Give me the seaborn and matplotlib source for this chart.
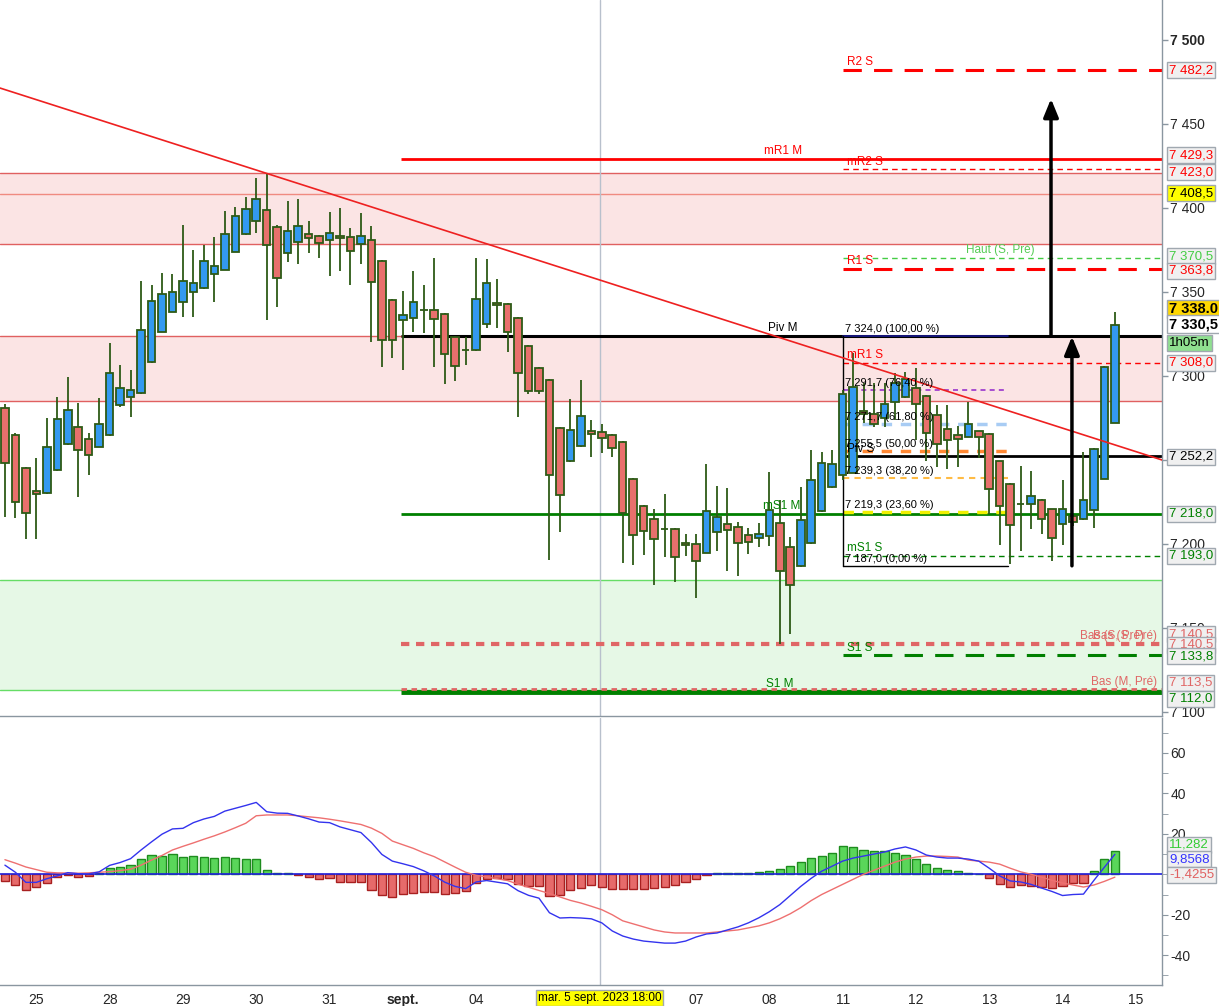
import numpy as np
import matplotlib
matplotlib.use("Agg")
import matplotlib.pyplot as plt
from matplotlib.ticker import MultipleLocator
import seaborn as sns

sns.set_style("white")
plt.rcParams['font.family'] = ['Liberation Sans', 'DejaVu Sans']

# =========================================================================== #
# Data: 2h candles, bar 0 = first bar of Fri 25 Aug

first_bar = -3
opens = [7281.0, 7264.9, 7245.3, 7231.6, 7230.4, 7244.1, 7259.5, 7269.7, 7262.5, 7257.8,
         7264.9, 7282.7, 7287.5, 7289.9, 7308.3, 7326.2, 7338.1, 7344.1, 7350.0, 7352.4,
         7360.7, 7363.1, 7373.8, 7384.5, 7392.3, 7398.8, 7388.7, 7373.2, 7379.8, 7384.5,
         7383.3, 7381.0, 7383.3, 7382.7, 7378.6, 7381.0, 7368.5, 7345.2, 7333.3, 7334.5,
         7339.3, 7339.3, 7336.9, 7323.2, 7315.5, 7315.5, 7331.0, 7343.5, 7342.9, 7334.5,
         7317.9, 7304.8, 7297.6, 7269.1, 7249.4, 7258.3, 7267.3, 7266.7, 7264.9, 7260.7,
         7238.7, 7222.6, 7214.9, 7209.0, 7209.0, 7200.6, 7200.0, 7194.7, 7207.1, 7211.9,
         7210.1, 7205.4, 7203.6, 7204.8, 7212.5, 7198.2, 7186.9, 7200.6, 7219.6, 7233.9,
         7241.1, 7242.3, 7279.2, 7277.4, 7275.0, 7284.5, 7287.5, 7292.9, 7288.1, 7276.8,
         7268.5, 7264.9, 7263.7, 7267.3, 7265.5, 7249.4, 7235.7, 7223.8, 7223.8, 7226.2,
         7220.8, 7211.9, 7216.7, 7214.9, 7220.2, 7238.7, 7272.0]
highs = [7283.3, 7266.1, 7246.0, 7251.2, 7275.0, 7287.5, 7299.4, 7283.9, 7266.1, 7286.9,
         7319.7, 7306.6, 7303.6, 7356.5, 7354.2, 7361.3, 7360.7, 7389.9, 7375.0, 7378.0,
         7382.7, 7398.2, 7400.6, 7406.5, 7417.9, 7420.8, 7390.0, 7404.2, 7405.4, 7392.3,
         7384.0, 7397.6, 7400.0, 7388.1, 7397.0, 7389.3, 7369.0, 7346.0, 7350.6, 7362.5,
         7354.2, 7370.2, 7337.5, 7323.5, 7323.2, 7370.2, 7369.6, 7357.7, 7343.5, 7335.0,
         7318.5, 7305.5, 7298.0, 7269.5, 7286.3, 7297.6, 7273.8, 7271.4, 7265.5, 7261.0,
         7239.0, 7223.0, 7220.8, 7229.8, 7209.5, 7206.0, 7206.0, 7247.6, 7234.5, 7233.3,
         7213.1, 7209.5, 7212.5, 7242.9, 7226.2, 7204.2, 7233.9, 7256.0, 7254.8, 7256.0,
         7291.7, 7313.7, 7295.8, 7295.8, 7295.8, 7301.8, 7302.4, 7304.8, 7288.5, 7282.7,
         7282.7, 7270.2, 7284.5, 7267.5, 7266.0, 7249.5, 7236.0, 7246.4, 7243.5, 7226.5,
         7221.0, 7238.1, 7217.0, 7254.8, 7257.0, 7306.0, 7338.0]
lows = [7216.1, 7215.5, 7203.0, 7203.0, 7229.5, 7243.5, 7259.0, 7228.0, 7241.1, 7257.5,
        7264.5, 7281.6, 7275.6, 7289.5, 7308.0, 7326.0, 7337.8, 7335.1, 7335.1, 7352.0,
        7344.1, 7363.0, 7373.5, 7384.0, 7385.1, 7333.3, 7341.1, 7367.9, 7366.7, 7373.2,
        7370.2, 7359.5, 7362.5, 7354.2, 7366.7, 7320.2, 7305.4, 7310.7, 7303.6, 7326.2,
        7325.6, 7305.4, 7295.2, 7297.0, 7306.6, 7315.0, 7328.6, 7328.6, 7314.3, 7275.6,
        7289.3, 7289.3, 7190.5, 7207.1, 7249.0, 7258.0, 7251.8, 7254.2, 7251.8, 7188.7,
        7187.5, 7193.5, 7175.6, 7192.3, 7177.4, 7192.9, 7167.9, 7194.5, 7195.8, 7183.9,
        7181.0, 7194.1, 7198.2, 7198.8, 7140.5, 7146.4, 7186.5, 7200.0, 7219.0, 7233.5,
        7238.1, 7242.0, 7272.0, 7269.7, 7269.7, 7273.8, 7287.0, 7261.9, 7249.4, 7245.8,
        7244.7, 7245.8, 7263.5, 7251.2, 7217.9, 7199.4, 7188.1, 7195.8, 7208.9, 7206.0,
        7189.9, 7199.4, 7210.7, 7214.5, 7209.5, 7238.5, 7272.0]
closes = [7248.2, 7225.0, 7218.5, 7229.8, 7257.8, 7274.4, 7279.8, 7256.0, 7253.0, 7271.4,
          7301.8, 7292.9, 7291.7, 7327.4, 7344.6, 7348.8, 7350.0, 7356.5, 7355.4, 7368.5,
          7365.5, 7384.5, 7395.2, 7399.4, 7405.4, 7378.0, 7358.3, 7386.3, 7389.3, 7382.1,
          7379.2, 7385.1, 7382.1, 7374.4, 7383.3, 7356.0, 7321.4, 7321.4, 7336.3, 7344.1,
          7339.3, 7333.9, 7313.1, 7306.0, 7315.5, 7345.8, 7355.4, 7342.3, 7326.2, 7301.8,
          7291.1, 7291.1, 7241.1, 7229.2, 7267.9, 7276.2, 7265.5, 7263.1, 7257.2, 7218.5,
          7205.4, 7207.7, 7203.0, 7209.0, 7192.3, 7199.4, 7189.9, 7219.6, 7216.1, 7208.3,
          7200.6, 7201.2, 7206.0, 7220.2, 7183.9, 7175.6, 7214.3, 7238.1, 7248.2, 7247.6,
          7289.3, 7293.5, 7277.4, 7271.4, 7283.3, 7295.8, 7298.2, 7283.3, 7266.1, 7259.5,
          7261.9, 7262.5, 7271.4, 7263.7, 7232.8, 7222.6, 7211.3, 7223.8, 7228.6, 7214.9,
          7203.6, 7220.8, 7213.1, 7226.2, 7256.6, 7305.4, 7330.5]

macd_line = [4.5, 1.0, -4.0, -4.0, -2.2, -0.8, 0.8, 0.3, 0.2, 1.2,
             4.4, 5.8, 7.7, 12.0, 16.0, 19.8, 22.4, 22.7, 25.5, 27.3,
             28.6, 31.2, 32.6, 34.0, 35.5, 30.9, 30.2, 30.1, 28.8, 27.4,
             25.8, 25.5, 23.4, 22.0, 20.6, 15.7, 9.8, 6.5, 5.2, 3.8,
             1.7, -0.8, -3.9, -6.0, -7.1, -3.8, -3.1, -3.9, -4.7, -8.1,
             -10.4, -11.8, -19.0, -21.6, -21.4, -21.6, -22.0, -24.0, -28.0, -30.5,
             -32.0, -33.0, -33.5, -34.0, -34.0, -33.0, -31.0, -29.5, -29.0, -27.5,
             -26.0, -24.0, -21.5, -18.5, -15.0, -10.5, -6.0, -2.0, 1.5, 4.0,
             6.5, 8.0, 9.0, 10.0, 11.0, 12.5, 13.5, 12.0, 9.5, 8.5,
             8.0, 8.0, 7.5, 6.5, 3.0, -0.8, -3.3, -3.8, -5.0, -6.8,
             -8.5, -10.5, -10.0, -9.8, -3.0, 3.5, 9.8568]
signal_line = [7.2, 5.5, 3.6, 2.3, 1.0, 0.7, 0.6, 0.5, 0.7, 1.0,
               1.3, 1.8, 2.5, 4.5, 7.0, 9.3, 12.0, 13.8, 15.5, 17.3,
               19.0, 20.9, 23.0, 25.2, 28.9, 29.3, 29.3, 29.3, 28.9, 28.4,
               27.9, 27.2, 26.4, 25.5, 24.6, 22.8, 20.2, 16.4, 14.6, 12.8,
               10.6, 8.7, 6.1, 3.5, 1.0, -0.5, -1.3, -2.2, -3.1, -4.9,
               -6.4, -8.0, -9.5, -11.2, -12.9, -14.2, -15.8, -17.5, -20.0, -23.0,
               -24.5, -26.0, -27.5, -28.5, -29.0, -29.0, -29.0, -29.0, -28.5, -28.0,
               -27.5, -26.5, -25.5, -24.0, -22.0, -19.5, -16.5, -13.0, -10.0, -7.5,
               -5.0, -2.5, 0.0, 2.0, 4.0, 6.0, 7.5, 8.5, 9.0, 9.0,
               8.8, 8.5, 7.0, 6.5, 6.0, 5.0, 3.0, 1.2, 0.0, -1.4,
               -3.0, -4.3, -5.3, -6.3, -5.3, -3.5, -1.4255]
macd_hist = [-3.1, -5.1, -7.6, -6.1, -4.1, -1.2, -0.3, -1.2, -0.7, 0.5,
             3.0, 3.5, 4.4, 7.4, 9.4, 9.2, 9.9, 8.4, 8.9, 8.4,
             7.9, 8.4, 7.9, 7.4, 7.4, 2.0, 0.5, 0.5, -0.5, -1.5,
             -2.5, -2.0, -4.0, -4.0, -4.0, -7.6, -10.4, -11.4, -9.9, -9.4,
             -8.9, -8.9, -9.9, -9.4, -8.4, -4.4, -2.5, -2.0, -2.5, -4.9,
             -5.9, -5.9, -10.9, -10.4, -7.9, -6.9, -5.4, -6.5, -7.5, -7.5,
             -7.5, -7.5, -7.0, -6.5, -5.5, -4.0, -2.5, -0.3, 0.5, 0.5,
             0.5, 0.8, 1.0, 1.5, 2.5, 4.0, 6.0, 8.0, 9.0, 10.5,
             14.0, 13.5, 12.0, 11.5, 11.5, 10.5, 9.5, 7.5, 5.0, 3.0,
             2.0, 1.5, 0.7, 0.3, -2.0, -4.8, -6.3, -5.3, -5.8, -6.3,
             -6.8, -5.8, -4.3, -4.3, 1.8, 7.4, 11.282]

day_ticks = [0, 7, 14, 21, 28, 35, 42, 49, 56, 63, 70, 77, 84, 91, 98, 105]
day_labels = ['25', '28', '29', '30', '31', 'sept.', '04', '05', '06', '07',
              '08', '11', '12', '13', '14', '15']

# support / resistance zones (low, high)
red_zones = [(7378.6, 7420.8), (7285.1, 7323.8)]
red_zone_mid = 7408.5
green_zone = (7113.3, 7178.6)

# trend line and arrows
trend_x = [-3.47, 107.5]
trend_y = [7471.4, 7250.0]
arrow_x = [96.9, 98.9]
arrow_from = [7324.0, 7187.0]
arrow_to = [7465.0, 7323.5]

# fibonacci retracement (weekly)
fib_levels = [7324.0, 7291.7, 7271.7, 7255.5, 7239.3, 7219.3, 7187.0]
fib_pcts = ['100,00', '76,40', '61,80', '50,00', '38,20', '23,60', '0,00']

cross_bar = 53.8
cross_label = 'mar. 5 sept. 2023 18:00'

# =========================================================================== #

bars = np.arange(first_bar, first_bar + len(opens))
o = np.array(opens)
c = np.array(closes)

W, H = 1219, 1006
fig = plt.figure(figsize=(W / 100, H / 100), dpi=100)
ax = fig.add_axes([0, 1 - 716 / H, 1162 / W, 716 / H])
ax2 = fig.add_axes([0, 1 - 985 / H, 1162 / W, 267 / H], sharex=ax)

x_left, x_right = -3.47, 107.5
ax.set_xlim(x_left, x_right)
ax.set_ylim(7097.6, 7523.8)
ax2.set_ylim(-54.7, 77.2)

RED = '#ff0000'
GREEN = '#008000'
SALMON = '#e06666'
EDGE = '#2d5a16'
AXC = '#8a96a0'

# zones
for lo, hi in red_zones:
    ax.axhspan(lo, hi, color='#fbe4e4', zorder=0, lw=0)
    ax.axhline(lo, color='#e06060', lw=1, zorder=0.5)
    ax.axhline(hi, color='#e06060', lw=1, zorder=0.5)
ax.axhline(red_zone_mid, color='#f08a80', lw=1, zorder=0.5)
ax.axhspan(green_zone[0], green_zone[1], color='#e6f8e6', zorder=0, lw=0)
ax.axhline(green_zone[1], color='#66dd66', lw=1, zorder=0.5)
ax.axhline(green_zone[0], color='#66dd66', lw=1, zorder=0.5)

# crosshair
ax.axvline(cross_bar, color='#b8c0cc', lw=1, zorder=1)
ax2.axvline(cross_bar, color='#b8c0cc', lw=1, zorder=1)

month_start, week_start = 34.83, 77.0


def level(price, x0, color, lw, dashes=None, z=2):
    line, = ax.plot([x0, x_right], [price, price], color=color, lw=lw, zorder=z,
                    solid_capstyle='butt')
    if dashes:
        line.set_dashes(dashes)


def tag(text, x, price, color, ha='left', size=8.5):
    ax.annotate(text, (x, price), xytext=(0, 1.5), textcoords='offset pixels',
                ha=ha, va='bottom', color=color, fontsize=size, zorder=6)


# monthly levels
level(7429.3, month_start, RED, 2.0)
level(7140.5, month_start, SALMON, 3.0, (2, 1.6))
level(7113.5, month_start, SALMON, 2.0, (2, 1.6), z=2.2)
level(7112.0, month_start, GREEN, 3.5, z=2.1)
level(7218.0, month_start, GREEN, 2.0)
level(7324.0, month_start, 'black', 2.2, z=2.5)
# weekly levels
level(7482.2, week_start, RED, 2.2, (6, 4))
level(7423.0, week_start, RED, 1.0, (4, 3))
level(7370.5, week_start, '#44cc44', 1.0, (4, 3))
level(7363.8, week_start, RED, 2.2, (6, 4))
level(7308.0, week_start, RED, 1.0, (4, 3))
level(7252.2, week_start, 'black', 2.0)
level(7193.0, week_start, GREEN, 1.0, (4, 3))
level(7133.8, week_start, GREEN, 2.2, (6, 4))

# fibonacci
fib_end = 92.8
fib_colors = ['#1a1a90', '#9933cc', '#a8ccf4', '#ff8833', '#ffbb44', '#f0f000', 'black']
fib_widths = [1.2, 1.2, 2.5, 2.5, 1.5, 2.5, 1.0]
for i, (lvl, pct, col, lw) in enumerate(zip(fib_levels, fib_pcts, fib_colors, fib_widths)):
    ln, = ax.plot([week_start, fib_end], [lvl, lvl], color=col, lw=lw, zorder=2.6)
    if 0 < i < len(fib_levels) - 1:
        ln.set_dashes((3, 2.5))
    tag(f"{lvl:,.1f}".replace(',', ' ').replace('.', ',') + f" ({pct} %)",
        week_start + 0.2, lvl, 'black', size=8)
ax.plot([week_start, week_start], [fib_levels[-1], fib_levels[0]], color='black', lw=1, zorder=2.6)

# trend line
sns.lineplot(x=trend_x, y=trend_y, ax=ax, color='#ee2020', lw=1.2, zorder=4)

# candles
ax.vlines(bars, lows, highs, color=EDGE, lw=1.3, zorder=3)
ax.bar(bars, c - o, bottom=o, width=0.72,
       color=np.where(c > o, '#3399f0', '#e8706c'), edgecolor=EDGE, lw=1.3, zorder=3.5)

# level labels
tag('R2 S', 77.4, 7482.2, RED)
tag('mR1 M', 71.3, 7429.3, RED, ha='center')
tag('mR2 S', 77.4, 7423.0, RED)
tag('Haut (S, Pré)', 92.1, 7370.5, '#55cc55', ha='center')
tag('R1 S', 77.4, 7363.8, RED)
tag('Piv M', 71.3, 7324.0, 'black', ha='center')
tag('mR1 S', 77.4, 7308.0, RED)
tag('Piv S', 77.4, 7252.2, 'black')
tag('mS1 M', 71.2, 7218.0, GREEN, ha='center')
tag('mS1 S', 77.4, 7193.0, GREEN)
tag('Bas (S, Pré)', 107.0, 7140.5, SALMON, ha='right')
tag('Bas (S, Pré)', 105.8, 7140.5, SALMON, ha='right')
tag('S1 S', 77.4, 7133.8, GREEN)
tag('Bas (M, Pré)', 107.0, 7113.5, SALMON, ha='right')
tag('S1 M', 71.0, 7112.0, GREEN, ha='center')

# arrows
for xa, y0, y1 in zip(arrow_x, arrow_from, arrow_to):
    ax.annotate('', xy=(xa, y1), xytext=(xa, y0),
                arrowprops=dict(arrowstyle='-|>,head_width=0.45,head_length=1.1',
                                color='black', lw=2.5, shrinkA=0, shrinkB=0), zorder=7)

# right price axis
price_ticks = [7100, 7150, 7200, 7250, 7300, 7350, 7400, 7450, 7500]
ax.yaxis.tick_right()
ax.set_yticks(price_ticks, [f"{t:,}".replace(',', ' ') for t in price_ticks])
ax.tick_params(axis='y', length=4, width=1, color=AXC, pad=2, labelsize=10)
for lbl in ax.get_yticklabels():
    if lbl.get_text() == '7 500':
        lbl.set_fontweight('bold')
    # fully covered by the 7 252,2 price tag in the original
    if lbl.get_text() == '7 250':
        lbl.set_visible(False)
ax.tick_params(axis='x', bottom=False, labelbottom=False)

tag_texts = ['7 482,2', '7 429,3', '7 423,0', '7 408,5', '7 370,5', '7 363,8', '7 338.0',
             '7 330,5', '1h05m', '7 308,0', '7 252,2', '7 218,0', '7 193,0', '7 140,5',
             '7 140,5', '7 133,8', '7 113,5', '7 112,0']
tag_pos = [7482.1, 7431.5, 7421.4, 7408.9, 7371.4, 7362.5, 7339.9, 7330.9, 7319.6,
           7307.8, 7251.8, 7217.9, 7192.9, 7146.4, 7139.9, 7133.3, 7117.3, 7107.8]
tag_fg = [RED, RED, RED, 'black', '#44cc44', RED, 'black', 'black', 'black', RED,
          'black', GREEN, GREEN, SALMON, SALMON, GREEN, SALMON, GREEN]
tag_bg = ['#f0f0f0', '#f0f0f0', '#f0f0f0', '#ffff00', '#f0f0f0', '#f0f0f0', '#ffd700',
          '#ffffff', '#8fe08f', '#f0f0f0', '#f0f0f0', '#f0f0f0', '#f0f0f0', '#f0f0f0',
          '#f0f0f0', '#f0f0f0', '#f0f0f0', '#f0f0f0']
for txt, pos, fg, bg in zip(tag_texts, tag_pos, tag_fg, tag_bg):
    big = txt in ('7 338.0', '7 330,5')
    ax.annotate(txt, (1, pos), xycoords=('axes fraction', 'data'), xytext=(7, 0),
                textcoords='offset pixels', ha='left', va='center', color=fg,
                fontsize=10.5 if big else 9.5, fontweight='bold' if big else 'normal',
                annotation_clip=False, zorder=8,
                bbox=dict(boxstyle='square,pad=0.15', fc=bg, ec='#a0a8b0', lw=1))

# =========================================================================== #
# MACD panel

hist = np.array(macd_hist)
ax2.bar(bars, hist, width=0.78, color=np.where(hist >= 0, '#5ad65a', '#e66a6a'),
        edgecolor=np.where(hist >= 0, '#1e8c1e', '#a82020'), lw=1, zorder=2)
ax2.axhline(0, color='#2020dd', lw=1.2, zorder=3)
sns.lineplot(x=bars, y=signal_line, ax=ax2, color='#ee7070', lw=1, zorder=4)
sns.lineplot(x=bars, y=macd_line, ax=ax2, color='#3333ee', lw=1, zorder=4)

ax2.yaxis.tick_right()
macd_ticks = [-40, -20, 20, 40, 60]
ax2.set_yticks(macd_ticks, [str(t) for t in macd_ticks])
ax2.yaxis.set_minor_locator(MultipleLocator(10))
ax2.tick_params(axis='y', which='both', length=4, color=AXC, pad=2, labelsize=10)

macd_tags = ['11,282', '9,8568', '-1,4255']
macd_tag_pos = [14.5, 7.5, -0.3]
macd_tag_fg = ['#33cc33', '#3333ff', '#e06060']
for txt, pos, fg in zip(macd_tags, macd_tag_pos, macd_tag_fg):
    ax2.annotate(txt, (1, pos), xycoords=('axes fraction', 'data'), xytext=(7, 0),
                 textcoords='offset pixels', ha='left', va='center', color=fg,
                 fontsize=9.5, annotation_clip=False, zorder=8,
                 bbox=dict(boxstyle='square,pad=0.15', fc='#f0f0f0', ec='#a0a8b0', lw=1))

ax2.set_xticks(day_ticks, day_labels)
ax2.tick_params(axis='x', length=3, color=AXC, labelsize=10, pad=3)
for tick, lbl in zip(day_ticks, ax2.get_xticklabels()):
    if lbl.get_text() == 'sept.':
        lbl.set_fontweight('bold')
    # labels hidden under the crosshair date box
    if abs(tick - cross_bar) < 6:
        lbl.set_visible(False)
ax2.annotate(cross_label, (cross_bar, 0), xycoords=('data', 'axes fraction'),
             xytext=(0, -13), textcoords='offset pixels', ha='center', va='center',
             fontsize=8.5, color='black', annotation_clip=False, zorder=9,
             bbox=dict(boxstyle='square,pad=0.15', fc='#ffff00', ec='#a0a8b0', lw=1))

for a in (ax, ax2):
    a.set_facecolor('white')
    for side in ('left', 'top'):
        a.spines[side].set_visible(False)
    for side in ('right', 'bottom'):
        a.spines[side].set_color(AXC)
        a.spines[side].set_linewidth(1)
    a.set_xlabel('')
    a.set_ylabel('')

fig.savefig('out.png', dpi=100, facecolor='white')
